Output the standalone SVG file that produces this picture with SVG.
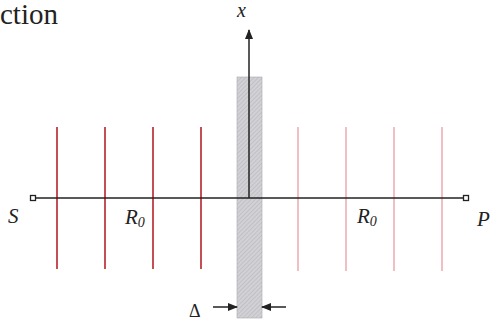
<svg xmlns="http://www.w3.org/2000/svg" width="491" height="323" viewBox="0 0 491 323">
<style>
.serif{font-family:"Liberation Serif","DejaVu Serif",serif;fill:#222}
.lbl{font-style:italic}
.red{stroke:#b5232b;stroke-width:1.6}
.pink{stroke:#ebb0b6;stroke-width:1.6}
.ax{stroke:#222;stroke-width:1.5;fill:none}
</style>
<defs>
<pattern id="hatch" width="3" height="3" patternUnits="userSpaceOnUse" patternTransform="rotate(45)">
<rect width="3" height="3" fill="#d2d2d6"/>
<line x1="0" y1="0" x2="0" y2="3" stroke="#aeaeb4" stroke-width="1"/>
</pattern>
<marker id="ah" markerWidth="10" markerHeight="8" refX="9" refY="4" orient="auto" markerUnits="userSpaceOnUse">
<path d="M0,0 L10,4 L0,8 Z" fill="#222"/>
</marker>
</defs>
<text class="serif" x="0" y="24" font-size="29">ction</text>
<g id="slab">
<rect x="237" y="77" width="25" height="241" fill="url(#hatch)" stroke="#a8a8ae" stroke-width="0.6"/>
</g>
<g id="red-planes">
<line class="red" x1="57" y1="127" x2="57" y2="269"/>
<line class="red" x1="105" y1="127" x2="105" y2="269"/>
<line class="red" x1="153" y1="127" x2="153" y2="269"/>
<line class="red" x1="201" y1="127" x2="201" y2="269"/>
</g>
<g id="pink-planes">
<line class="pink" x1="298" y1="127" x2="298" y2="271"/>
<line class="pink" x1="346" y1="127" x2="346" y2="271"/>
<line class="pink" x1="394" y1="127" x2="394" y2="271"/>
<line class="pink" x1="442" y1="127" x2="442" y2="271"/>
</g>
<g id="connectors">
<line class="ax" x1="36" y1="198" x2="463" y2="198"/>
<line class="ax" x1="249" y1="198" x2="249" y2="30" marker-end="url(#ah)"/>
<line class="ax" x1="213" y1="307" x2="237" y2="307" marker-end="url(#ah)"/>
<line class="ax" x1="286" y1="307" x2="262" y2="307" marker-end="url(#ah)"/>
</g>
<g id="S">
<rect x="30.5" y="195.5" width="5" height="5" fill="#fff" stroke="#222" stroke-width="1.3"/>
<text class="serif lbl" x="8" y="223" font-size="21">S</text>
</g>
<g id="P">
<rect x="463.5" y="195.5" width="5" height="5" fill="#fff" stroke="#222" stroke-width="1.3"/>
<text class="serif lbl" x="477" y="226" font-size="21">P</text>
</g>
<g id="R0-left">
<text class="serif lbl" x="125" y="224" font-size="21">R<tspan font-size="14" dy="3">0</tspan></text>
</g>
<g id="R0-right">
<text class="serif lbl" x="357" y="223" font-size="21">R<tspan font-size="14" dy="3">0</tspan></text>
</g>
<g id="x-label">
<text class="serif lbl" x="237" y="17" font-size="20">x</text>
</g>
<g id="delta">
<text class="serif" x="189" y="317" font-size="18">Δ</text>
</g>
</svg>
